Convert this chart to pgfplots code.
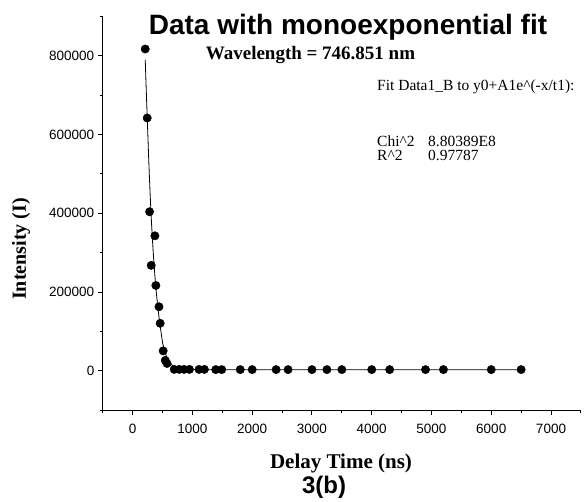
\documentclass[border=0pt]{standalone}
\usepackage{pgfplots}
\pgfplotsset{compat=1.18}
\usepackage{fontspec}
\setmainfont{Liberation Serif}
\newfontfamily\arial{Liberation Sans}
\begin{document}
\begin{tikzpicture}[x=1pt,y=1pt]
\path[use as bounding box] (0,0) rectangle (584,502);
\begin{axis}[
  at={(102.8pt,91.6pt)}, anchor=south west,
  scale only axis, width=478.1pt, height=394.1pt,
  xmin=-500, xmax=7500, ymin=-100000, ymax=900000,
  axis lines=left, axis line style={-, line width=1pt},
  xtick={0,1000,...,7000}, minor xtick={-500,500,...,7500},
  ytick={0,200000,...,800000}, minor ytick={-100000,100000,...,900000},
  tick align=outside, major tick length=5pt, minor tick length=3pt,
  every tick/.style={black, line width=1pt},
  scaled y ticks=false, scaled x ticks=false,
  yticklabel style={/pgf/number format/fixed, /pgf/number format/1000 sep={}},
  xticklabel style={/pgf/number format/1000 sep={}, yshift=-5pt},
  /pgf/number format/assume math mode=true,
  tick label style={font=\arial\fontsize{13.5}{16}\selectfont},
  clip=false,
]
\addplot[black, line width=0.8pt] coordinates {
(210,790000) (230,700000) (250,615000) (270,530000) (290,455000)
(310,390000) (330,335000) (350,287000) (375,235000) (400,192000)
(425,156000) (450,126000) (475,98000) (500,72000) (530,53000)
(560,39000) (600,26000) (650,16000) (700,10000) (750,7000)
(800,5500) (900,4200) (1000,3700) (1200,3300) (1500,3100)
(2000,3000) (6500,3000)
};
\addplot[only marks, mark=*, mark size=4.2pt, black] coordinates {
(210,817000) (243,642000) (283,404000) (310,268000) (372,343000)
(388,217000) (440,163000) (460,121000) (510,51000) (545,27000)
(575,19000) (695,4000) (780,4000) (860,4000) (950,4000)
(1110,4000) (1200,4000) (1390,3500) (1490,3500) (1800,3500)
(2000,3500) (2400,3500) (2600,3500) (3000,3500) (3250,3500)
(3500,3500) (4000,3500) (4300,3500) (4900,3500) (5200,3500)
(6000,3500) (6500,3500)
};
\end{axis}
\node[font=\arial\bfseries\fontsize{28}{33}\selectfont, anchor=base] at (348,467) {Data with monoexponential fit};
\node[font=\bfseries\fontsize{19}{23}\selectfont, anchor=base] at (310.5,442) {Wavelength = 746.851 nm};
\node[font=\fontsize{15.5}{18}\selectfont, anchor=base west, inner sep=0pt] at (377,411) {Fit Data1\_B to y0+A1e\textasciicircum(-x/t1):};
\node[font=\fontsize{15.5}{18}\selectfont, anchor=base west, inner sep=0pt] at (377,355) {Chi\textasciicircum2};
\node[font=\fontsize{15.5}{18}\selectfont, anchor=base west, inner sep=0pt] at (428,355) {8.80389E8};
\node[font=\fontsize{15.5}{18}\selectfont, anchor=base west, inner sep=0pt] at (377,341) {R\textasciicircum2};
\node[font=\fontsize{15.5}{18}\selectfont, anchor=base west, inner sep=0pt] at (428,341) {0.97787};
\node[rotate=90, font=\bfseries\fontsize{20}{24}\selectfont] at (21,253) {Intensity (I)};
\node[font=\bfseries\fontsize{21}{25}\selectfont, anchor=base] at (341,33) {Delay Time (ns)};
\node[font=\arial\bfseries\fontsize{24}{28}\selectfont, anchor=base] at (324,8) {3(b)};
\end{tikzpicture}
\end{document}
